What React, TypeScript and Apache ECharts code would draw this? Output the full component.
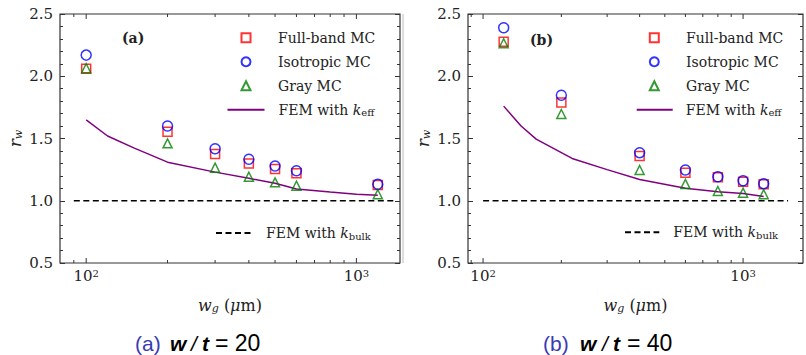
import React, { useEffect, useRef } from 'react';
import * as echarts from 'echarts';

const SERIF = 'DejaVu Serif';
const SANS = 'Liberation Sans';

// ---- Panel (a): w/t = 20 ----
const wgA = [100, 200, 300, 400, 500, 600, 1200];
const fullBandA = [2.06, 1.555, 1.375, 1.3, 1.255, 1.22, 1.127];
const isotropicA = [2.17, 1.6, 1.418, 1.333, 1.279, 1.241, 1.132];
const grayA = [2.064, 1.461, 1.266, 1.193, 1.148, 1.121, 1.052];
const femEffXA = [100, 120, 150, 200, 300, 400, 500, 600, 800, 1000, 1200];
const femEffYA = [1.65, 1.52, 1.425, 1.31, 1.23, 1.18, 1.14, 1.095, 1.07, 1.052, 1.045];
const femBulkXA = [90, 1370];
const femBulkYA = [1.0, 1.0];

// ---- Panel (b): w/t = 40 ----
const wgB = [120, 200, 400, 600, 800, 1000, 1200];
const fullBandB = [2.278, 1.79, 1.36, 1.225, 1.188, 1.153, 1.132];
const isotropicB = [2.39, 1.847, 1.386, 1.247, 1.193, 1.161, 1.137];
const grayB = [2.265, 1.697, 1.247, 1.135, 1.078, 1.065, 1.052];
const femEffXB = [120, 140, 160, 220, 300, 400, 600, 800, 1000, 1200];
const femEffYB = [1.76, 1.6, 1.495, 1.34, 1.25, 1.17, 1.1, 1.073, 1.058, 1.035];
const femBulkXB = [100, 1490];
const femBulkYB = [1.0, 1.0];

// ---- axes ----
const xRangeA = [80, 1450];
const xRangeB = [87.5, 1700];
const yRange = [0.5, 2.5];
const yInterval = 0.5;
const xMajorTicks = [100, 1000];
const xMinorTicks = [90, 200, 300, 400, 500, 600, 700, 800, 900];

const NAME_FB = 'Full-band MC';
const NAME_ISO = 'Isotropic MC';
const NAME_GRAY = 'Gray MC';
const NAME_EFF = 'FEM with k_eff';
const NAME_BULK = 'FEM with k_bulk';

const zip = (xs: number[], ys: number[]) => xs.map((x, i) => [x, ys[i]]);

const legendLabel = (name: string) => {
  if (name === NAME_EFF) return 'FEM with {i|k}{sub|eff}';
  if (name === NAME_BULK) return 'FEM with {i|k}{sub|bulk}';
  return name;
};

const legendRich = {
  i: { fontFamily: SERIF, fontStyle: 'italic', fontSize: 14, lineHeight: 16, color: '#222' },
  sub: { fontFamily: SERIF, fontSize: 10, lineHeight: 5, verticalAlign: 'bottom', color: '#222' },
};

const legendItem = (name: string) =>
  name === NAME_EFF || name === NAME_BULK
    ? { name, itemStyle: { color: 'transparent', borderColor: 'transparent', borderWidth: 0 } }
    : { name };

const makeLegend = (left: number, top: number, w: number, pad: number, names: string[], gap = 8) => ({
  left,
  top,
  orient: 'vertical',
  padding: 0,
  itemGap: gap,
  itemWidth: w,
  itemHeight: 9,
  symbolKeepAspect: true,
  selectedMode: false,
  data: names.map(legendItem),
  formatter: legendLabel,
  textStyle: {
    fontFamily: SERIF,
    fontSize: 14,
    lineHeight: 16,
    color: '#222',
    padding: [0, 0, 0, pad],
    rich: legendRich,
  },
});

const xAxisFor = (gridIndex: number, range: number[]) => ({
  type: 'log',
  logBase: 10,
  gridIndex,
  min: range[0],
  max: range[1],
  axisLine: { show: false },
  axisTick: { show: false },
  splitLine: { show: false },
  minorTick: { show: false },
  name: '{i|w}{sub|g}{n| (}{i|μ}{n|m)}',
  nameLocation: 'middle',
  nameGap: 33,
  nameTextStyle: {
    fontFamily: SERIF,
    fontSize: 16,
    color: '#222',
    rich: {
      i: { fontFamily: SERIF, fontStyle: 'italic', fontSize: 16, lineHeight: 18, color: '#222' },
      n: { fontFamily: SERIF, fontSize: 16, lineHeight: 18, color: '#222' },
      sub: { fontFamily: SERIF, fontStyle: 'italic', fontSize: 11, lineHeight: 6, verticalAlign: 'bottom', color: '#222' },
    },
  },
  axisLabel: {
    margin: 5,
    fontFamily: SERIF,
    fontSize: 15,
    color: '#222',
    formatter: (v: number) => {
      if (Math.abs(v - 100) < 1e-6) return '{b|10}{sup|2}';
      if (Math.abs(v - 1000) < 1e-6) return '{b|10}{sup|3}';
      return '';
    },
    rich: {
      b: { fontFamily: SERIF, fontSize: 15, lineHeight: 16, color: '#222' },
      sup: { fontFamily: SERIF, fontSize: 10, lineHeight: 5, verticalAlign: 'top', color: '#222' },
    },
  },
});

const yTick = { show: true, inside: true, length: 5, lineStyle: { color: '#333', width: 1 } };
const yMinor = { show: true, splitNumber: 5, length: 3, lineStyle: { color: '#333', width: 1 } };

const yAxesFor = (gridIndex: number) => [
  {
    type: 'value',
    gridIndex,
    position: 'left',
    min: yRange[0],
    max: yRange[1],
    interval: yInterval,
    axisLine: { show: false },
    axisTick: yTick,
    minorTick: yMinor,
    splitLine: { show: false },
    minorSplitLine: { show: false },
    axisLabel: {
      margin: 7,
      fontFamily: SERIF,
      fontSize: 15,
      color: '#222',
      formatter: (v: number) => v.toFixed(1),
    },
    name: '{i|r}{sub|w}',
    nameLocation: 'middle',
    nameRotate: 90,
    nameGap: 36,
    nameTextStyle: {
      fontFamily: SERIF,
      fontSize: 17,
      color: '#222',
      rich: {
        i: { fontFamily: SERIF, fontStyle: 'italic', fontSize: 17, lineHeight: 18, color: '#222' },
        sub: { fontFamily: SERIF, fontStyle: 'italic', fontSize: 11, lineHeight: 6, verticalAlign: 'bottom', color: '#222' },
      },
    },
  },
  {
    type: 'value',
    gridIndex,
    position: 'right',
    min: yRange[0],
    max: yRange[1],
    interval: yInterval,
    axisLine: { show: false },
    axisTick: yTick,
    minorTick: yMinor,
    splitLine: { show: false },
    minorSplitLine: { show: false },
    axisLabel: { show: false },
  },
];

const tickData = [...xMajorTicks.map((v) => [v, 1]), ...xMinorTicks.map((v) => [v, 0])];

const tickSeries = (xAxisIndex: number, yAxisIndex: number) => ({
  type: 'custom',
  xAxisIndex,
  yAxisIndex,
  silent: true,
  clip: false,
  z: 5,
  data: tickData,
  renderItem: (params: any, api: any) => {
    const v = api.value(0);
    const major = api.value(1) === 1;
    const cs = params.coordSys;
    const x = api.coord([v, 1])[0];
    if (x < cs.x + 0.5 || x > cs.x + cs.width - 0.5) return null;
    const len = major ? 5 : 3;
    const bottom = cs.y + cs.height;
    const top = cs.y;
    const st = { stroke: '#333', lineWidth: 1 };
    return {
      type: 'group',
      children: [
        { type: 'line', shape: { x1: x, y1: bottom, x2: x, y2: bottom - len }, style: st },
        { type: 'line', shape: { x1: x, y1: top, x2: x, y2: top + len }, style: st },
      ],
    };
  },
});

const scatter = (name: string, data: number[][], symbol: string, size: number, color: string, xi: number, yi: number) => ({
  type: 'scatter',
  name,
  xAxisIndex: xi,
  yAxisIndex: yi,
  symbol,
  symbolSize: size,
  symbolKeepAspect: true,
  data,
  z: 3,
  itemStyle: { color: 'transparent', borderColor: color, borderWidth: 1.5 },
});

const panelSeries = (
  xi: number,
  yi: number,
  wg: number[],
  fb: number[],
  iso: number[],
  gray: number[],
  effX: number[],
  effY: number[],
  bulkX: number[],
  bulkY: number[]
) => [
  {
    type: 'line',
    name: NAME_EFF,
    xAxisIndex: xi,
    yAxisIndex: yi,
    data: zip(effX, effY),
    symbol: 'none',
    z: 2,
    lineStyle: { color: '#800080', width: 1.5 },
    itemStyle: { color: '#800080' },
  },
  {
    type: 'line',
    name: NAME_BULK,
    xAxisIndex: xi,
    yAxisIndex: yi,
    data: zip(bulkX, bulkY),
    symbol: 'none',
    z: 2,
    lineStyle: { color: '#000', width: 1.5, type: [6, 3.5] },
    itemStyle: { color: '#000' },
  },
  scatter(NAME_FB, zip(wg, fb), 'rect', 9, '#ff0000', xi, yi),
  scatter(NAME_ISO, zip(wg, iso), 'circle', 10, '#0000ff', xi, yi),
  scatter(NAME_GRAY, zip(wg, gray), 'triangle', 9, '#008000', xi, yi),
  tickSeries(xi, yi),
];

const captionParts = (label: string, value: string, xs: number[]) => {
  const y = 343;
  const base = { fontFamily: SANS, fontSize: 21, lineHeight: 20, verticalAlign: 'middle' };
  return [
    { type: 'text', x: xs[0], y, style: { ...base, text: label, fill: '#3a3ab5' } },
    { type: 'text', x: xs[1], y, style: { ...base, text: 'w', fill: '#000', fontStyle: 'italic', fontWeight: 'bold' } },
    { type: 'text', x: xs[2], y, style: { ...base, text: '/', fill: '#000', fontStyle: 'italic' } },
    { type: 'text', x: xs[3], y, style: { ...base, text: 't', fill: '#000', fontStyle: 'italic', fontWeight: 'bold' } },
    { type: 'text', x: xs[4], y, style: { ...base, text: '= ' + value, fill: '#000', fontSize: 23 } },
  ];
};

export default function App() {
  const ref = useRef<HTMLDivElement>(null);
  useEffect(() => {
    if (!ref.current) return;
    const chart = echarts.init(ref.current, null, { renderer: 'svg' });
    const option: any = {
      animation: false,
      backgroundColor: '#fff',
      grid: [
        { left: 60, top: 14, width: 340, height: 249, show: true, borderColor: '#333', borderWidth: 1.2, backgroundColor: 'transparent' },
        { left: 468, top: 14, width: 339, height: 249, show: true, borderColor: '#333', borderWidth: 1.2, backgroundColor: 'transparent' },
      ],
      xAxis: [xAxisFor(0, xRangeA), xAxisFor(1, xRangeB)],
      yAxis: [...yAxesFor(0), ...yAxesFor(1)],
      legend: [
        makeLegend(240.5, 29.7, 9, 22.5, [NAME_FB, NAME_ISO, NAME_GRAY]),
        makeLegend(226.5, 101.7, 37, 9, [NAME_EFF]),
        makeLegend(215, 225, 35, 10, [NAME_BULK]),
        makeLegend(648.8, 29.7, 9, 22.2, [NAME_FB, NAME_ISO, NAME_GRAY]),
        makeLegend(635.7, 101.7, 36, 8, [NAME_EFF]),
        makeLegend(624, 224.3, 34.3, 9, [NAME_BULK]),
      ],
      series: [
        ...panelSeries(0, 0, wgA, fullBandA, isotropicA, grayA, femEffXA, femEffYA, femBulkXA, femBulkYA),
        ...panelSeries(1, 2, wgB, fullBandB, isotropicB, grayB, femEffXB, femEffYB, femBulkXB, femBulkYB),
      ],
      graphic: [
        { type: 'text', x: 122, y: 38, style: { text: '(a)', fontFamily: SERIF, fontWeight: 'bold', fontSize: 14, fill: '#222', verticalAlign: 'middle' } },
        { type: 'text', x: 530, y: 40, style: { text: '(b)', fontFamily: SERIF, fontWeight: 'bold', fontSize: 14, fill: '#222', verticalAlign: 'middle' } },
        { type: 'line', shape: { x1: 403, y1: 14, x2: 403, y2: 263 }, style: { stroke: '#bbb', lineWidth: 1 } },
        ...captionParts('(a)', '20', [135, 170, 191, 202, 215]),
        ...captionParts('(b)', '40', [543, 580, 602, 613, 627]),
      ],
    };
    chart.setOption(option);
    return () => chart.dispose();
  }, []);
  return <div ref={ref} style={{ position: 'absolute', left: 0, top: 0, width: 806, height: 355 }} />;
}
